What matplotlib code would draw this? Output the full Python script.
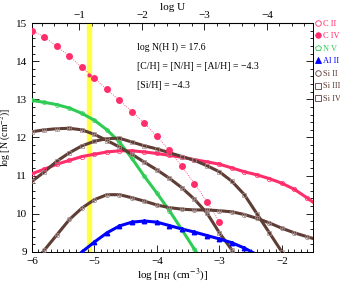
import numpy as np
import matplotlib
matplotlib.use("Agg")
import matplotlib.pyplot as plt
from matplotlib.ticker import MultipleLocator

plt.rcParams['font.family'] = ['Liberation Serif', 'DejaVu Serif']
plt.rcParams['mathtext.fontset'] = 'stix'

# model grid in log nH (step 0.2)
nh = [-6.0, -5.8, -5.6, -5.4, -5.2, -5.0, -4.8, -4.6, -4.4, -4.2, -4.0, -3.8,
      -3.6, -3.4, -3.2, -3.0, -2.8, -2.6, -2.4, -2.2, -2.0, -1.8, -1.6, -1.4]

c2 = [11.05, 11.17, 11.30, 11.40, 11.50, 11.56, 11.62, 11.65, 11.65, 11.62, 11.58, 11.53,
      11.48, 11.42, 11.36, 11.30, 11.20, 11.10, 11.02, 10.92, 10.80, 10.64, 10.42, 10.18]

nh_n5 = nh[:15]
n5 = [12.97, 12.92, 12.86, 12.77, 12.63, 12.45, 12.20, 11.88, 11.45, 10.98, 10.54, 10.08,
      9.58, 9.07, 8.60]

nh_al2 = nh[3:20]
al2 = [8.70, 9.00, 9.26, 9.50, 9.68, 9.78, 9.81, 9.78, 9.69, 9.60, 9.52, 9.43,
       9.34, 9.24, 9.10, 8.93, 8.75]

si2 = [8.65, 9.05, 9.45, 9.85, 10.15, 10.37, 10.50, 10.50, 10.42, 10.33, 10.23, 10.16,
       10.12, 10.10, 10.10, 10.08, 10.05, 9.98, 9.88, 9.76, 9.62, 9.50, 9.40, 9.30]

nh_si3 = nh[:22]
si3 = [10.85, 11.10, 11.38, 11.60, 11.78, 11.90, 11.97, 11.98, 11.88, 11.78, 11.70, 11.60,
       11.50, 11.40, 11.26, 11.10, 10.85, 10.50, 10.00, 9.50, 9.00, 8.40]

nh_si4 = nh[:18]
si4 = [12.15, 12.20, 12.23, 12.24, 12.20, 12.08, 11.92, 11.75, 11.56, 11.35, 11.15, 10.93,
       10.68, 10.38, 10.02, 9.50, 9.05, 8.50]

# C IV dots
nh_c4 = [-6.0, -5.8, -5.6, -5.4, -5.2, -5.0, -4.8, -4.6, -4.4, -4.2, -4.0, -3.8,
         -3.6, -3.4, -3.2, -3.0]
c4 = [14.80, 14.63, 14.39, 14.13, 13.84, 13.55, 13.26, 12.97, 12.68, 12.37, 12.03, 11.66,
      11.24, 10.79, 10.32, 9.79]
nh_band = -5.08
c4_band = 13.63

pink = '#ff2d6a'
green = '#2ecc55'
blue = '#0000ff'
brown = '#5e3d35'
mgrey = '#a08888'

fig = plt.figure(figsize=(3.4, 2.84), dpi=100)
ax = fig.add_axes([0.094, 0.113, 0.827, 0.806])

ax.axvspan(-5.12, -5.05, color='#ffff44', zorder=1)

lw = 2.2
ms = 3.2
ax.plot(nh, c2, '-', color=pink, lw=lw, zorder=3)
ax.plot(nh, c2, 'o', mfc='none', mec=pink, ms=ms, mew=0.5, zorder=4)
ax.plot(nh_n5, n5, '-', color=green, lw=lw, zorder=3)
ax.plot(nh_n5, n5, 'p', mfc='none', mec=green, ms=ms, mew=0.5, zorder=4)
ax.plot(nh_si4, si4, '-', color=brown, lw=lw, zorder=3)
ax.plot(nh_si4, si4, 's', mfc='none', mec=mgrey, ms=ms, mew=0.5, zorder=4)
ax.plot(nh_si4, si4, '+', mec=mgrey, ms=ms, mew=0.5, zorder=4)
ax.plot(nh_si3, si3, '-', color=brown, lw=lw, zorder=3)
ax.plot(nh_si3, si3, 's', mfc='none', mec=mgrey, ms=ms, mew=0.5, zorder=4)
ax.plot(nh, si2, '-', color=brown, lw=lw, zorder=3)
ax.plot(nh, si2, 'o', mfc='none', mec=mgrey, ms=ms, mew=0.5, zorder=4)
ax.plot(nh, si2, '+', mec=mgrey, ms=ms, mew=0.5, zorder=4)
ax.plot(nh_al2, al2, '-', color=blue, lw=lw, zorder=3)
ax.plot(nh_al2, al2, '^', color=blue, ms=3.2, zorder=4)

ax.plot(nh_c4, c4, ':', color=pink, lw=0.6, zorder=2)
ax.plot(nh_c4, c4, 'o', color=pink, ms=5, mec='none', zorder=5)
ax.plot([nh_band], [c4_band], 'o', color=pink, ms=3, mec='none', zorder=5)

ax.set_xlim(-6, -1.5)
ax.set_ylim(9, 15)
ax.xaxis.set_major_locator(MultipleLocator(1))
ax.xaxis.set_minor_locator(MultipleLocator(0.1))
ax.yaxis.set_major_locator(MultipleLocator(1))
ax.yaxis.set_minor_locator(MultipleLocator(0.2))
ax.tick_params(which='both', direction='in', right=True, labelsize=8, width=0.6)
ax.tick_params(which='major', length=5)
ax.tick_params(which='minor', length=2.5)
ax.tick_params(axis='x', pad=4)
for s in ax.spines.values():
    s.set_linewidth(0.7)
ax.set_xlabel(r'log [n$_{\rm H}$ (cm$^{-3}$)]', fontsize=8, labelpad=0)
ax.set_ylabel(r'log [N (cm$^{-2}$)]', fontsize=7)
ax.yaxis.set_label_coords(-0.066, 0.5)

# top axis: log U
def nh_to_u(x):
    return -6.24 - x

top = ax.secondary_xaxis('top', functions=(nh_to_u, nh_to_u))
top.xaxis.set_major_locator(MultipleLocator(1))
top.xaxis.set_minor_locator(MultipleLocator(0.2))
top.tick_params(which='both', direction='in', labelsize=8, width=0.6, pad=2)
top.tick_params(which='major', length=5)
top.tick_params(which='minor', length=2.5)
top.set_xlabel('log U', fontsize=8, labelpad=1)

ax.text(0.375, 0.885, 'log N(H I) = 17.6', transform=ax.transAxes, fontsize=7)
ax.text(0.375, 0.80, '[C/H] = [N/H] = [Al/H] = \u22124.3', transform=ax.transAxes, fontsize=7)
ax.text(0.375, 0.715, '[Si/H] = \u22124.3', transform=ax.transAxes, fontsize=7)

# legend at right, outside the axes
leg_items = [('C II', 'o', 'none', pink, pink),
             ('C IV', 'o', pink, pink, pink),
             ('N V', 'p', 'none', green, green),
             ('Al II', '^', blue, blue, blue),
             ('Si II', 'o', 'none', brown, brown),
             ('Si III', 's', 'none', brown, brown),
             ('Si IV', 's', 'none', brown, brown)]
handles = []
for lab, mk, fc, ec, tc in leg_items:
    h, = ax.plot([], [], mk, mfc=fc, mec=ec, ms=4, mew=0.6, label=lab)
    handles.append(h)
leg = ax.legend(handles=handles, loc='upper left', bbox_to_anchor=(1.008, 1.015),
                frameon=False, fontsize=6, handlelength=0.6, handletextpad=0.3,
                labelspacing=0.55, borderaxespad=0, borderpad=0)
for t, item in zip(leg.get_texts(), leg_items):
    t.set_color(item[4])

fig.savefig('out.png', dpi=100)
